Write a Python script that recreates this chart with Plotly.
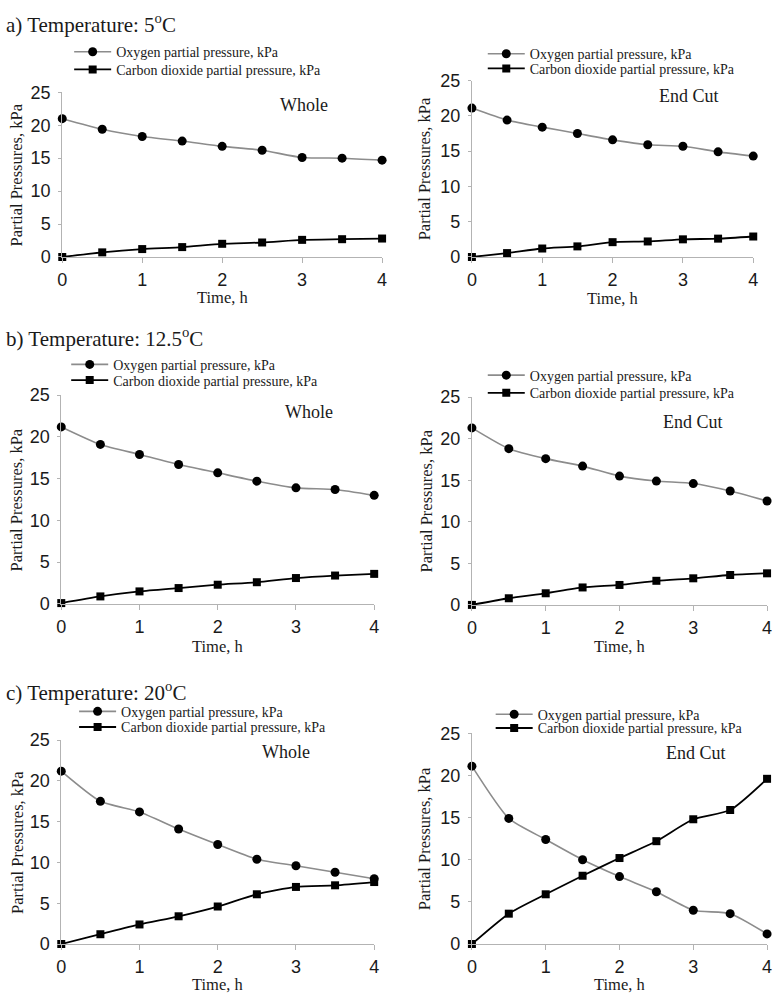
import plotly.graph_objects as go

time_h = [0, 0.5, 1, 1.5, 2, 2.5, 3, 3.5, 4]

# a) 5 C
o2_5_whole = [21.0, 19.4, 18.3, 17.6, 16.8, 16.2, 15.1, 15.0, 14.7]
co2_5_whole = [0.0, 0.7, 1.2, 1.5, 2.0, 2.2, 2.6, 2.7, 2.8]
o2_5_end = [21.1, 19.4, 18.4, 17.5, 16.6, 15.9, 15.7, 14.9, 14.3]
co2_5_end = [0.0, 0.55, 1.2, 1.5, 2.1, 2.2, 2.5, 2.6, 2.9]
# b) 12.5 C
o2_12_whole = [21.2, 19.1, 17.9, 16.7, 15.7, 14.7, 13.9, 13.7, 13.0]
co2_12_whole = [0.1, 0.9, 1.5, 1.9, 2.3, 2.6, 3.1, 3.4, 3.6]
o2_12_end = [21.3, 18.8, 17.6, 16.7, 15.5, 14.9, 14.6, 13.7, 12.5]
co2_12_end = [0.0, 0.8, 1.4, 2.1, 2.4, 2.9, 3.2, 3.6, 3.8]
# c) 20 C
o2_20_whole = [21.2, 17.5, 16.2, 14.1, 12.2, 10.4, 9.6, 8.8, 8.0]
co2_20_whole = [0.0, 1.2, 2.4, 3.4, 4.6, 6.1, 7.0, 7.2, 7.6]
o2_20_end = [21.1, 14.9, 12.4, 10.0, 8.0, 6.2, 4.0, 3.6, 1.2]
co2_20_end = [0.0, 3.6, 5.9, 8.1, 10.2, 12.2, 14.8, 15.9, 19.6]

o2_name = "Oxygen partial pressure, kPa"
co2_name = "Carbon dioxide partial pressure, kPa"
panel_titles = ["a) Temperature: 5<sup>o</sup>C", "b) Temperature: 12.5<sup>o</sup>C",
                "c) Temperature: 20<sup>o</sup>C"]
panel_labels = ["Whole", "End Cut"]
x_ticks = [0, 1, 2, 3, 4]
y_ticks = [0, 5, 10, 15, 20, 25]

series = [
    (o2_5_whole, co2_5_whole), (o2_5_end, co2_5_end),
    (o2_12_whole, co2_12_whole), (o2_12_end, co2_12_end),
    (o2_20_whole, co2_20_whole), (o2_20_end, co2_20_end),
]

W, H = 777, 1004


def px(xp):
    return min(1.0, max(0.0, xp / W))


def py(yp):
    return min(1.0, max(0.0, 1 - yp / H))


SERIF = "Liberation Serif, Times New Roman, serif"
SANS = "Liberation Sans, Arial, sans-serif"

# panel boxes in pixels: (left, right, top, bottom)
boxes = [
    (58, 382, 84, 252), (473, 758, 72, 252),
    (57, 374, 393, 606), (473, 772, 395, 607),
    (57, 374, 745, 953), (473, 772, 738, 953),
]
# legend rows: (line start x, O2 row center y, CO2 row center y)
legend_pos = [(73, 43, 61), (492, 45, 60), (70, 362, 378), (492, 373, 391),
              (78, 716, 732), (500, 719, 733)]
label_pos = [(303, 97), (693, 88), (308, 410), (697, 420), (285, 757), (700, 758)]
xtitle_y = [293, 294, 649, 649, 994, 994]
ytitle_x = [12, 425, 12, 427, 12, 425]
title_y = [14, 334, 695]

fig = go.Figure()
layout = dict(width=W, height=H, margin=dict(l=0, r=0, t=0, b=0),
              plot_bgcolor="white", paper_bgcolor="white", showlegend=True)
annotations = []

for i, (o2, co2) in enumerate(series):
    n = i + 1
    xa = "x" if n == 1 else f"x{n}"
    ya = "y" if n == 1 else f"y{n}"
    lg1 = "legend" if i == 0 else f"legend{2 * i + 1}"
    lg2 = f"legend{2 * i + 2}"
    l, r, t, b = boxes[i]
    fig.add_trace(go.Scatter(x=time_h, y=o2, name=o2_name, mode="lines+markers",
                             line=dict(color="#8c8c8c", width=1.6, shape="spline", smoothing=0.6),
                             marker=dict(symbol="circle", size=9, color="black"),
                             xaxis=xa, yaxis=ya, legend=lg1, cliponaxis=False))
    fig.add_trace(go.Scatter(x=time_h, y=co2, name=co2_name, mode="lines+markers",
                             line=dict(color="black", width=1.8, shape="spline", smoothing=0.6),
                             marker=dict(symbol="square", size=8, color="black"),
                             xaxis=xa, yaxis=ya, legend=lg2, cliponaxis=False))
    axis_common = dict(showline=True, linecolor="#b3b3b3", linewidth=1, showgrid=False,
                       zeroline=False, ticks="outside", tickcolor="#b3b3b3",
                       ticklabeloverflow="allow",
                       tickfont=dict(family=SANS, size=18, color="#1a1a1a"))
    layout["xaxis" if n == 1 else f"xaxis{n}"] = dict(
        axis_common, domain=[px(l), px(r)], range=[0, 4], tickvals=x_ticks,
        ticklen=5, anchor=ya, ticklabelstandoff=1)
    layout["yaxis" if n == 1 else f"yaxis{n}"] = dict(
        axis_common, domain=[py(b), py(t)], range=[0, 25], tickvals=y_ticks,
        ticklen=3, anchor=xa, ticklabelstandoff=4)
    lx, ly1, ly2 = legend_pos[i]
    for lg, ly in ((lg1, ly1), (lg2, ly2)):
        layout[lg] = dict(x=px(lx - 8), y=py(ly), xanchor="left", yanchor="middle",
                          xref="paper", yref="paper", bgcolor="rgba(0,0,0,0)",
                          font=dict(family=SERIF, size=14, color="#1a1a1a"),
                          itemwidth=37)
    cx, cy = label_pos[i]
    annotations.append(dict(text=panel_labels[i % 2], x=px(cx), y=py(cy), xref="paper",
                            yref="paper", showarrow=False, xanchor="center", yanchor="middle",
                            font=dict(family=SERIF, size=18, color="#1a1a1a")))
    annotations.append(dict(text="Time, h", x=px((l + r) / 2), y=py(xtitle_y[i]),
                            xref="paper", yref="paper", showarrow=False, xanchor="center",
                            yanchor="middle", font=dict(family=SERIF, size=16.5, color="#1a1a1a")))
    annotations.append(dict(text="Partial Pressures, kPa", x=px(ytitle_x[i]),
                            y=py((t + b) / 2), xref="paper", yref="paper", showarrow=False,
                            textangle=-90, xanchor="center", yanchor="middle",
                            font=dict(family=SERIF, size=16.5, color="#1a1a1a")))

for j, tt in enumerate(panel_titles):
    annotations.append(dict(text=tt, x=0, y=py(title_y[j]), xref="paper", yref="paper",
                            showarrow=False, xanchor="left", yanchor="middle", xshift=-1,
                            font=dict(family=SERIF, size=21, color="#1a1a1a")))

layout["annotations"] = annotations
fig.update_layout(**layout)
fig.write_html("out.html", config={"displayModeBar": False},
               post_script="document.body.style.margin='0';")
